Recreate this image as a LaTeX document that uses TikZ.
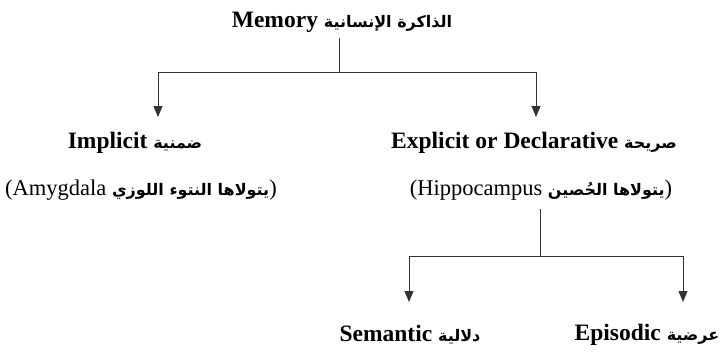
\documentclass[tikz,border=0pt]{standalone}
\usepackage{fontspec}
\setmainfont{Liberation Serif}
\newfontfamily\arabicfont[Script=Arabic,Scale=0.68]{DejaVu Sans}
\newfontfamily\arabicnote[Script=Arabic,Scale=0.71]{DejaVu Sans}
\TeXXeTstate=1
\usetikzlibrary{positioning,arrows.meta}
\newcommand{\artxt}[1]{{\arabicfont\bfseries\beginR #1\endR}}
\newcommand{\arnote}[1]{{\arabicnote\bfseries\beginR #1\endR}}

\begin{document}
\begin{tikzpicture}[x=1pt,y=-1pt,font=\fontsize{22.5}{26}\selectfont]
\tikzstyle{head}=[inner sep=0pt,font=\fontsize{23.5}{27}\selectfont\bfseries]
\tikzstyle{note}=[inner sep=0pt]
\tikzstyle{link}=[line width=0.9pt,black!80]
\tikzstyle{arr}=[link,-{Triangle[width=9pt,length=11pt]}]
\useasboundingbox (0,0) rectangle (723,354);
% levels
\node[head] (mem) at (342,22) {Memory \artxt{الذاكرة الإنسانية}};
\node[head] (impl) at (135,143) {Implicit \artxt{ضمنية}};
\node[note] (amyg) at (141,190) {(Amygdala \arnote{يتولاها النتوء اللوزي})};
\node[head] (expl) at (534,143) {Explicit or Declarative \artxt{صريحة}};
\node[note] (hipp) at (541,190) {(Hippocampus \arnote{يتولاها الحُصين})};
\node[head] (sem) at (410,335) {Semantic \artxt{دلالية}};
\node[head] (epi) at (647,335) {Episodic \artxt{عرضية}};
% connectors
\coordinate (j1) at (339,72);
\coordinate (t1) at (158,117);
\coordinate (t2) at (536,117);
\coordinate (j2) at (540,256);
\coordinate (t3) at (409,302);
\coordinate (t4) at (683,302);
\draw[link,shorten <=6pt] (j1 |- mem.south) -- (j1);
\draw[arr] (j1) -| (t1);
\draw[arr] (j1) -| (t2);
\draw[link,shorten <=9pt] (j2 |- hipp.south) -- (j2);
\draw[arr] (j2) -| (t3);
\draw[arr] (j2) -| (t4);
\end{tikzpicture}
\end{document}
